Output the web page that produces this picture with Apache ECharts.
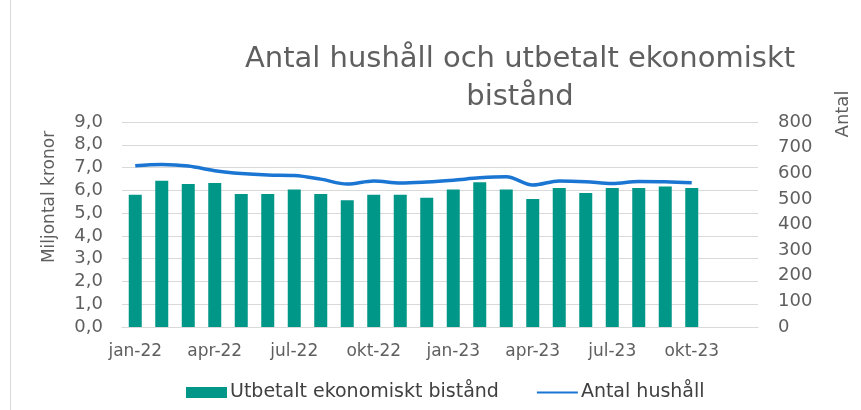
<!DOCTYPE html>
<html>
<head>
<meta charset="utf-8">
<script src="https://cdn.jsdelivr.net/npm/echarts@6/dist/echarts.min.js"></script>
<style>
  html, body { margin: 0; padding: 0; background: #fff; }
  #main { width: 861px; height: 410px; }
</style>
</head>
<body>
<div id="main"></div>
<script>
// kategorier (jan-22 .. dec-23, de två sista tomma)
var months = ['jan-22', 'feb-22', 'mar-22', 'apr-22', 'maj-22', 'jun-22', 'jul-22', 'aug-22', 'sep-22',
    'okt-22', 'nov-22', 'dec-22', 'jan-23', 'feb-23', 'mar-23', 'apr-23', 'maj-23', 'jun-23', 'jul-23',
    'aug-23', 'sep-23', 'okt-23', 'nov-23', 'dec-23'];
// miljontal kronor
var bistand = [5.81, 6.42, 6.28, 6.32, 5.84, 5.84, 6.04, 5.84, 5.56, 5.81, 5.81, 5.67,
    6.04, 6.35, 6.04, 5.62, 6.10, 5.88, 6.10, 6.10, 6.17, 6.10, null, null];
// antal hushåll
var hushall = [629, 634, 628, 610, 599, 593, 591, 577, 558, 570, 562, 566,
    573, 582, 586, 554, 570, 567, 560, 568, 567, 563, null, null];

var chartDom = document.getElementById('main');
var myChart = echarts.init(chartDom);
var textColor = '#5f5f5f';
var font = 'DejaVu Sans';
var option;

option = {
    animation: false,
    title: {
        text: 'Antal hushåll och utbetalt ekonomiskt\nbistånd',
        left: 515,
        top: 35,
        textAlign: 'center',
        textStyle: {
            fontFamily: font,
            fontWeight: 'normal',
            fontSize: 29,
            lineHeight: 38,
            color: textColor
        }
    },
    legend: {
        bottom: 3,
        left: 181,
        itemGap: 38,
        itemWidth: 41,
        itemHeight: 11,
        textStyle: {
            fontFamily: font,
            fontSize: 19,
            color: '#404040',
            padding: [0, 0, 0, -2]
        },
        data: [
            { name: 'Utbetalt ekonomiskt bistånd', icon: 'rect' },
            { name: 'Antal hushåll', icon: 'path://M0,4.5 L41,4.5 L41,6.5 L0,6.5 Z' }
        ]
    },
    grid: {
        left: 122,
        right: 103,
        top: 122,
        bottom: 83
    },
    xAxis: {
        type: 'category',
        data: months,
        axisLine: { lineStyle: { color: '#d9d9d9' } },
        axisTick: { interval: 2, length: 5, lineStyle: { color: '#d9d9d9' } },
        axisLabel: {
            interval: 2,
            margin: 16,
            fontFamily: font,
            fontSize: 17,
            color: textColor
        }
    },
    yAxis: [{
            type: 'value',
            min: 0,
            max: 9,
            interval: 1,
            axisLine: { show: false },
            axisTick: { show: false },
            splitLine: { lineStyle: { color: '#d9d9d9', width: 1 } },
            axisLabel: {
                margin: 19,
                fontFamily: font,
                fontSize: 18,
                color: textColor,
                formatter: function(v) {
                    return v.toFixed(1).replace('.', ',');
                }
            }
        },
        {
            type: 'value',
            min: 0,
            max: 800,
            interval: 100,
            axisLine: { show: false },
            axisTick: { show: false },
            splitLine: { show: false },
            axisLabel: {
                margin: 20,
                fontFamily: font,
                fontSize: 18,
                color: textColor
            }
        }
    ],
    graphic: [{
            type: 'text',
            x: 50,
            y: 197,
            rotation: Math.PI / 2,
            style: {
                text: 'Miljontal kronor',
                fontFamily: font,
                fontSize: 17,
                fill: textColor,
                align: 'center',
                verticalAlign: 'middle'
            }
        },
        {
            type: 'text',
            x: 843,
            y: 114,
            rotation: Math.PI / 2,
            style: {
                text: 'Antal',
                fontFamily: font,
                fontSize: 18,
                fill: textColor,
                align: 'center',
                verticalAlign: 'middle'
            }
        },
        {
            type: 'rect',
            shape: { x: 10, y: 0, width: 1, height: 410 },
            style: { fill: '#d9d9d9' }
        }
    ],
    series: [{
            name: 'Utbetalt ekonomiskt bistånd',
            type: 'bar',
            yAxisIndex: 0,
            barWidth: 13,
            itemStyle: { color: '#009688' },
            data: bistand
        },
        {
            name: 'Antal hushåll',
            type: 'line',
            yAxisIndex: 1,
            smooth: 0.35,
            showSymbol: false,
            lineStyle: { color: '#1a76d2', width: 3.5 },
            itemStyle: { color: '#1a76d2' },
            data: hushall
        }
    ]
};

myChart.setOption(option);
</script>
</body>
</html>
